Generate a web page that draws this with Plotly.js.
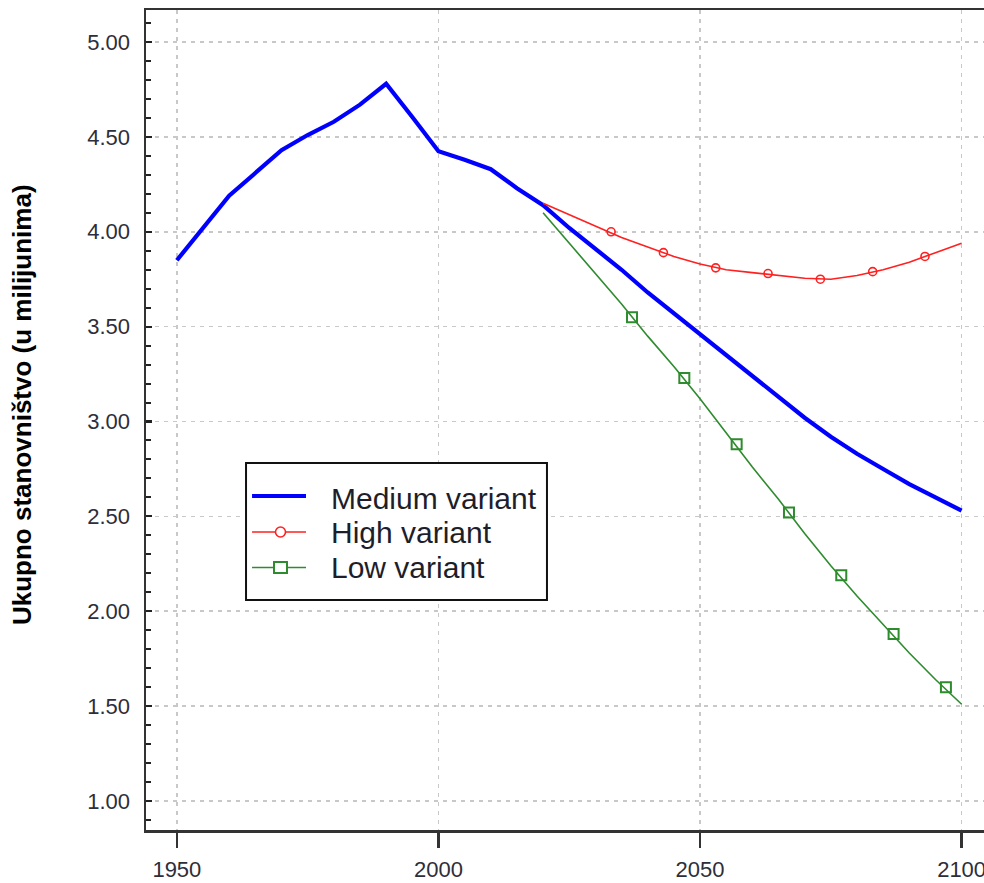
<!DOCTYPE html>
<html>
<head>
<meta charset="utf-8">
<script src="https://cdn.plot.ly/plotly-3.0.1.min.js"></script>
<style>html,body{margin:0;padding:0;overflow:hidden;background:#fff;}#chart{width:1010px;height:883px;}</style>
</head>
<body>
<div id="chart"></div>
<script>
// Medium variant (historical + projection), every 5 years
var mediumYears = [1950,1955,1960,1965,1970,1975,1980,1985,1990,1995,2000,2005,2010,2015,2020,2025,2030,2035,2040,2045,2050,2055,2060,2065,2070,2075,2080,2085,2090,2095,2100];
var mediumVals  = [3.85,4.02,4.19,4.31,4.43,4.51,4.58,4.67,4.78,4.605,4.425,4.38,4.33,4.23,4.14,4.02,3.91,3.80,3.68,3.57,3.46,3.35,3.24,3.13,3.02,2.92,2.83,2.75,2.67,2.60,2.53];

// High variant line, every 5 years
var highYears = [2020,2025,2030,2035,2040,2045,2050,2055,2060,2065,2070,2075,2080,2085,2090,2095,2100];
var highVals  = [4.15,4.09,4.03,3.97,3.92,3.87,3.83,3.80,3.785,3.77,3.755,3.75,3.77,3.80,3.84,3.89,3.94];
// High variant markers
var highMarkYears = [2033,2043,2053,2063,2073,2083,2093];
var highMarkVals  = [4.00,3.89,3.81,3.78,3.75,3.79,3.87];

// Low variant line, every 5 years
var lowYears = [2020,2025,2030,2035,2040,2045,2050,2055,2060,2065,2070,2075,2080,2085,2090,2095,2100];
var lowVals  = [4.10,3.94,3.78,3.62,3.45,3.29,3.12,2.94,2.76,2.59,2.41,2.24,2.08,1.93,1.78,1.64,1.51];
// Low variant markers
var lowMarkYears = [2037,2047,2057,2067,2077,2087,2097];
var lowMarkVals  = [3.55,3.23,2.88,2.52,2.19,1.88,1.60];

var seriesNames = ["Medium variant","High variant","Low variant"];
var xTickVals = [1950,2000,2050,2100];
var yTickVals = [1.0,1.5,2.0,2.5,3.0,3.5,4.0,4.5,5.0];

var blue = "#0000ff", red = "#ff2020", green = "#2e8b2e";
var FONT = "Liberation Sans, Arial, sans-serif";
var tickFont = {family:FONT, size:22, color:"#2e2e38"};

var traces = [
  {x: mediumYears, y: mediumVals, name:seriesNames[0], mode:"lines", line:{color:blue, width:4.2}, hoverinfo:"skip"},
  {x: highYears, y: highVals, name:seriesNames[1], mode:"lines", line:{color:red, width:1.6}, hoverinfo:"skip"},
  {x: highMarkYears, y: highMarkVals, name:seriesNames[1], mode:"markers", marker:{symbol:"circle-open", size:8, color:red, line:{width:1.6, color:red}}, hoverinfo:"skip"},
  {x: lowYears, y: lowVals, name:seriesNames[2], mode:"lines", line:{color:green, width:1.6}, hoverinfo:"skip"},
  {x: lowMarkYears, y: lowMarkVals, name:seriesNames[2], mode:"markers", marker:{symbol:"square-open", size:10, color:green, line:{width:2, color:green}}, hoverinfo:"skip"}
];

// legend geometry (paper fractions of the plot area)
var legX0 = 0.1181, legX1 = 0.4734, legY0 = 0.2805, legY1 = 0.4476;
var symX0 = 0.1252, symX1 = 0.1889, symXc = 0.1588, textX = 0.2161;
var rowY = [0.4073, 0.3634, 0.3201];
var rowTextY = [0.4037, 0.3634, 0.3207];

var shapes = [
  {type:"rect", xref:"paper", yref:"paper", x0:legX0, x1:legX1, y0:legY0, y1:legY1, line:{color:"#111", width:2}, fillcolor:"#fff", layer:"above"},
  {type:"line", xref:"paper", yref:"paper", x0:symX0, x1:symX1, y0:rowY[0], y1:rowY[0], line:{color:blue, width:4.2}, layer:"above"},
  {type:"line", xref:"paper", yref:"paper", x0:symX0, x1:symX1, y0:rowY[1], y1:rowY[1], line:{color:red, width:1.6}, layer:"above"},
  {type:"circle", xref:"paper", yref:"paper", xsizemode:"pixel", ysizemode:"pixel", xanchor:symXc, yanchor:rowY[1], x0:-5, x1:5, y0:-5, y1:5, line:{color:red, width:1.6}, fillcolor:"#fff", layer:"above"},
  {type:"line", xref:"paper", yref:"paper", x0:symX0, x1:symX1, y0:rowY[2], y1:rowY[2], line:{color:green, width:1.6}, layer:"above"},
  {type:"rect", xref:"paper", yref:"paper", xsizemode:"pixel", ysizemode:"pixel", xanchor:symXc, yanchor:rowY[2], x0:-6.5, x1:6.5, y0:-5.5, y1:5.5, line:{color:green, width:2}, fillcolor:"#fff", layer:"above"}
];

var annotations = [{text:"<b>Ukupno stanovništvo (u milijunima)</b>", xref:"paper", yref:"paper", x:-0.1464, y:0.5195,
                xanchor:"center", yanchor:"middle", textangle:-90, showarrow:false,
                font:{family:FONT, size:26, color:"#000"}}];
for (var i = 0; i < seriesNames.length; i++) {
  annotations.push({text:seriesNames[i], xref:"paper", yref:"paper", x:textX, y:rowTextY[i], xanchor:"left", yanchor:"middle",
                    showarrow:false, font:{family:FONT, size:30, color:"#1e1e2a"}});
}

var layout = {
  width:1010, height:883,
  margin:{l:146, r:17, t:10, b:53},
  paper_bgcolor:"#fff", plot_bgcolor:"#fff",
  font:{family:FONT, color:"#222"},
  showlegend:false,
  xaxis:{
    range:[1944.1, 2106], tickvals:xTickVals, ticktext:xTickVals.map(String),
    ticks:"outside", ticklen:15, tickwidth:2.5, tickcolor:"#333",
    showline:true, linecolor:"#333", linewidth:2.5, mirror:true,
    showgrid:true, gridcolor:"#c8c8c8", gridwidth:1.5, griddash:"4px,5px",
    zeroline:false, tickfont:tickFont, ticklabelstandoff:3
  },
  yaxis:{
    range:[0.847, 5.169], tickvals:yTickVals, tickformat:".2f",
    ticks:"inside", ticklen:6, tickwidth:2.2, tickcolor:"#222",
    minor:{dtick:0.1, tick0:0, ticks:"inside", ticklen:5, tickwidth:2, tickcolor:"#222", showgrid:false},
    showline:true, linecolor:"#333", linewidth:2.5, mirror:true,
    showgrid:true, gridcolor:"#c8c8c8", gridwidth:1.5, griddash:"4px,5px",
    zeroline:false, tickfont:tickFont, ticklabelstandoff:9
  },
  shapes:shapes,
  annotations:annotations
};

Plotly.newPlot("chart", traces, layout, {staticPlot:true, displayModeBar:false});
</script>
</body>
</html>
